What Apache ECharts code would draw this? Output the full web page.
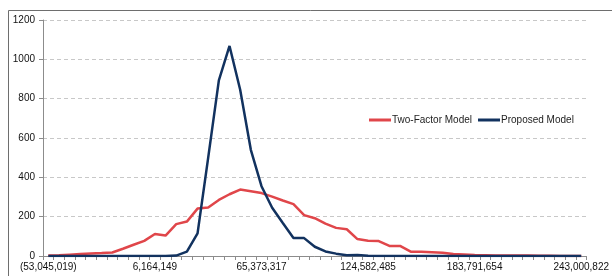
<!DOCTYPE html>
<html>
<head>
<meta charset="utf-8">
<script src="https://cdn.jsdelivr.net/npm/echarts@6/dist/echarts.min.js"></script>
<style>
  html, body { margin: 0; padding: 0; background: #fff; }
  #chart { width: 612px; height: 276px; }
</style>
</head>
<body>
<div id="chart"></div>
<script>
// x tick labels, one every 10 bins
var tickLabels = ['(53,045,019)', '6,164,149', '65,373,317', '124,582,485', '183,791,654', '243,000,822'];
var binCount = 51;
var categories = [];
for (var i = 0; i < binCount; i++) categories.push(String(i));

var twoFactor = [2, 4, 7, 10, 13, 15, 18, 37, 57, 77,
                 112, 104, 162, 175, 241, 247, 285, 314, 338, 329,
                 320, 302, 282, 264, 208, 192, 165, 143, 136, 86,
                 77, 76, 51, 51, 22, 21, 19, 17, 10, 8,
                 5, 4, 3, 3, 2, 2, 1, 1, 0, 0, 0];
var proposed = [0, 0, 0, 0, 0, 0, 0, 0, 0, 0,
                0, 0, 2, 22, 115, 500, 893, 1068, 845, 540,
                355, 245, 168, 92, 91, 47, 23, 12, 4, 5,
                1, 0, 0, 0, 0, 0, 0, 0, 0, 0,
                0, 0, 0, 0, 0, 0, 0, 0, 0, 0, 0];

var yTicks = { min: 0, max: 1200, interval: 200 };

var font = 'Liberation Sans';
var chart = echarts.init(document.getElementById('chart'));
var option = {
    animation: false,
    backgroundColor: '#fff',
    textStyle: { fontFamily: font },
    grid: { left: 43, right: 21, top: 20, bottom: 20 },
    graphic: [{
        type: 'rect',
        silent: true,
        shape: { x: 8.5, y: 10.5, width: 700, height: 400 },
        style: { fill: 'none', stroke: '#6e6e6e', lineWidth: 1 }
    }],
    legend: {
        left: 364,
        top: 110,
        icon: 'rect',
        itemWidth: 22,
        itemHeight: 3,
        itemGap: 6,
        textStyle: { fontFamily: font, fontSize: 10, color: '#222', padding: [0, 0, 0, -4] },
        data: ['Two-Factor Model', 'Proposed Model']
    },
    xAxis: {
        type: 'category',
        boundaryGap: true,
        data: categories,
        axisLine: { lineStyle: { color: '#8c8c8c', width: 1 } },
        axisTick: { show: true, interval: 0, length: 4, lineStyle: { color: '#8c8c8c' } },
        axisLabel: {
            interval: 9,
            margin: 6,
            fontSize: 10,
            color: '#111',
            fontFamily: font,
            formatter: function (v, idx) { return tickLabels[idx / 10]; }
        },
        splitLine: { show: false }
    },
    yAxis: {
        type: 'value',
        min: yTicks.min,
        max: yTicks.max,
        interval: yTicks.interval,
        axisLine: { show: true, lineStyle: { color: '#8c8c8c', width: 1 } },
        axisTick: { show: true, length: 4, lineStyle: { color: '#8c8c8c' } },
        axisLabel: {
            fontSize: 10, color: '#111', margin: 8, fontFamily: font,
            formatter: function (v) { return String(v); }
        },
        splitLine: { show: true, lineStyle: { color: '#c8c8c8', type: [4, 3], width: 1 } }
    },
    series: [
        {
            name: 'Two-Factor Model',
            type: 'line',
            data: twoFactor,
            symbol: 'none',
            color: '#e0464a',
            lineStyle: { width: 2.5, color: '#e0464a' }
        },
        {
            name: 'Proposed Model',
            type: 'line',
            data: proposed,
            symbol: 'none',
            color: '#12325f',
            lineStyle: { width: 2.5, color: '#12325f' }
        }
    ]
};
chart.setOption(option);
</script>
</body>
</html>
